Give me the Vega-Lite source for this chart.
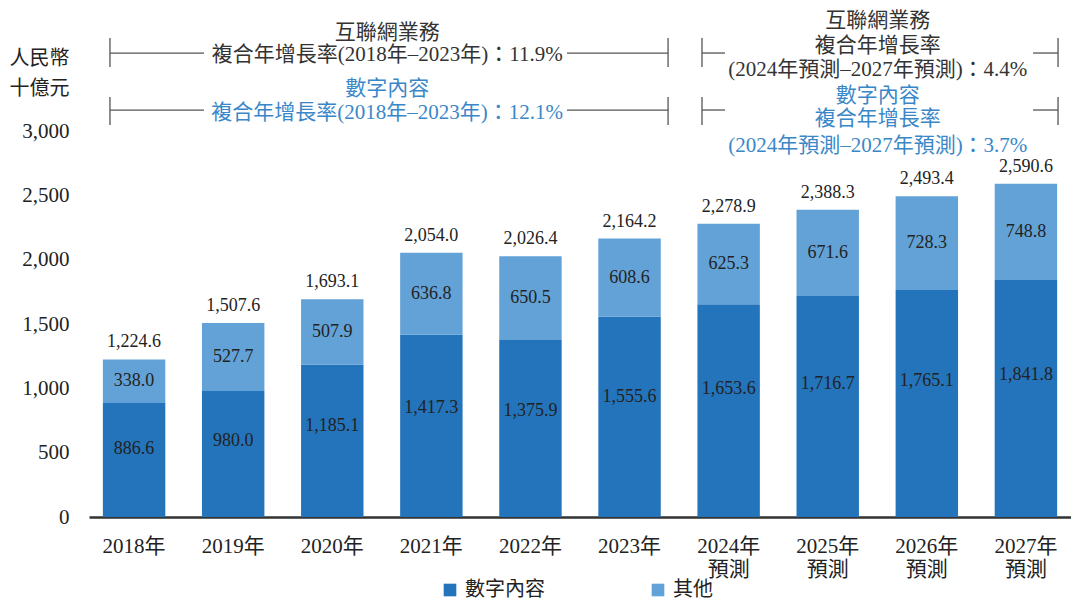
{
  "$schema": "https://vega.github.io/schema/vega-lite/v6.json",
  "width": 982,
  "height": 386,
  "autosize": {"type": "none"},
  "padding": {"left": 89, "top": 131, "right": 0, "bottom": 83},
  "background": "white",
  "config": {
    "font": "Liberation Serif, Noto Sans CJK TC",
    "view": {"stroke": null}
  },
  "datasets": {
    "bars": [
      {"year": "2018年", "series": "數字內容", "value": 886.6},
      {"year": "2018年", "series": "其他", "value": 338.0},
      {"year": "2019年", "series": "數字內容", "value": 980.0},
      {"year": "2019年", "series": "其他", "value": 527.7},
      {"year": "2020年", "series": "數字內容", "value": 1185.1},
      {"year": "2020年", "series": "其他", "value": 507.9},
      {"year": "2021年", "series": "數字內容", "value": 1417.3},
      {"year": "2021年", "series": "其他", "value": 636.8},
      {"year": "2022年", "series": "數字內容", "value": 1375.9},
      {"year": "2022年", "series": "其他", "value": 650.5},
      {"year": "2023年", "series": "數字內容", "value": 1555.6},
      {"year": "2023年", "series": "其他", "value": 608.6},
      {"year": "2024年預測", "series": "數字內容", "value": 1653.6},
      {"year": "2024年預測", "series": "其他", "value": 625.3},
      {"year": "2025年預測", "series": "數字內容", "value": 1716.7},
      {"year": "2025年預測", "series": "其他", "value": 671.6},
      {"year": "2026年預測", "series": "數字內容", "value": 1765.1},
      {"year": "2026年預測", "series": "其他", "value": 728.3},
      {"year": "2027年預測", "series": "數字內容", "value": 1841.8},
      {"year": "2027年預測", "series": "其他", "value": 748.8}
    ],
    "totals": [
      {"year": "2018年", "total": 1224.6},
      {"year": "2019年", "total": 1507.6},
      {"year": "2020年", "total": 1693.1},
      {"year": "2021年", "total": 2054.0},
      {"year": "2022年", "total": 2026.4},
      {"year": "2023年", "total": 2164.2},
      {"year": "2024年預測", "total": 2278.9},
      {"year": "2025年預測", "total": 2388.3},
      {"year": "2026年預測", "total": 2493.4},
      {"year": "2027年預測", "total": 2590.6}
    ],
    "annot": [
      {"label": "互聯網業務", "group": "互聯網業務", "pos": 2.56, "level": 3760},
      {"label": "複合年增長率(2018年–2023年)：11.9%", "group": "互聯網業務", "pos": 2.56, "level": 3590},
      {"label": "數字內容", "group": "數字內容", "pos": 2.56, "level": 3330},
      {"label": "複合年增長率(2018年–2023年)：12.1%", "group": "數字內容", "pos": 2.56, "level": 3140},
      {"label": "互聯網業務", "group": "互聯網業務", "pos": 7.52, "level": 3855},
      {"label": "複合年增長率", "group": "互聯網業務", "pos": 7.52, "level": 3660},
      {"label": "(2024年預測–2027年預測)：4.4%", "group": "互聯網業務", "pos": 7.52, "level": 3475},
      {"label": "數字內容", "group": "數字內容", "pos": 7.52, "level": 3275},
      {"label": "複合年增長率", "group": "數字內容", "pos": 7.52, "level": 3090},
      {"label": "(2024年預測–2027年預測)：3.7%", "group": "數字內容", "pos": 7.52, "level": 2885}
    ],
    "brackets": [
      {"p0": -0.243, "p1": 0.708, "l0": 3606, "l1": 3606},
      {"p0": 4.378, "p1": 5.40, "l0": 3606, "l1": 3606},
      {"p0": -0.243, "p1": -0.243, "l0": 3497, "l1": 3723},
      {"p0": 5.40, "p1": 5.40, "l0": 3497, "l1": 3723},
      {"p0": -0.243, "p1": 0.708, "l0": 3163, "l1": 3163},
      {"p0": 4.378, "p1": 5.40, "l0": 3163, "l1": 3163},
      {"p0": -0.243, "p1": -0.243, "l0": 3047, "l1": 3264},
      {"p0": 5.40, "p1": 5.40, "l0": 3047, "l1": 3264},
      {"p0": 5.743, "p1": 5.976, "l0": 3606, "l1": 3606},
      {"p0": 9.09, "p1": 9.343, "l0": 3606, "l1": 3606},
      {"p0": 5.743, "p1": 5.743, "l0": 3497, "l1": 3723},
      {"p0": 9.343, "p1": 9.343, "l0": 3497, "l1": 3723},
      {"p0": 5.743, "p1": 5.976, "l0": 3163, "l1": 3163},
      {"p0": 9.09, "p1": 9.343, "l0": 3163, "l1": 3163},
      {"p0": 5.743, "p1": 5.743, "l0": 3047, "l1": 3264},
      {"p0": 9.343, "p1": 9.343, "l0": 3047, "l1": 3264}
    ]
  },
  "resolve": {"scale": {"x": "independent"}, "axis": {"x": "independent"}},
  "layer": [
    {
      "layer": [
        {
          "data": {"name": "bars"},
          "mark": {"type": "bar"},
          "encoding": {
            "x": {
              "field": "year", "type": "nominal", "sort": null,
              "scale": {"paddingInner": 0.37, "paddingOuter": 0.14},
              "axis": {
                "title": null, "labelAngle": 0, "labelFontSize": 21, "labelColor": "#222",
                "labelPadding": 18, "ticks": false, "domainColor": "#333", "domainWidth": 2.5,
                "labelLineHeight": 23, "grid": false,
                "labelExpr": "length(datum.label) > 5 ? [slice(datum.label, 0, 5), slice(datum.label, 5)] : datum.label"
              }
            },
            "y": {
              "field": "value", "type": "quantitative", "stack": "zero",
              "scale": {"domain": [0, 3000], "nice": false},
              "axis": {
                "title": ["人民幣", "十億元"], "titleAngle": 0, "titleAlign": "left", "titleBaseline": "middle",
                "titleX": -80, "titleY": -73, "titleFontSize": 20, "titleFontWeight": "normal",
                "titleLineHeight": 30, "titleColor": "#222",
                "labelFontSize": 21, "labelColor": "#222", "labelPadding": 20,
                "domain": false, "ticks": false, "grid": false, "format": ",d",
                "values": [0, 500, 1000, 1500, 2000, 2500, 3000]
              }
            },
            "color": {
              "field": "series", "type": "nominal",
              "scale": {"domain": ["數字內容", "其他"], "range": ["#2474bb", "#62a2d7"]},
              "legend": {
                "title": null, "orient": "none", "legendX": 351, "legendY": 449,
                "direction": "horizontal", "symbolType": "square", "symbolSize": 160,
                "labelFontSize": 20, "labelColor": "#222", "columnPadding": 103,
                "labelOffset": 5, "symbolStrokeWidth": 0
              }
            },
            "order": {"field": "series", "sort": "descending"}
          }
        },
        {
          "data": {"name": "bars"},
          "transform": [
            {"stack": "value", "groupby": ["year"], "sort": [{"field": "series", "order": "descending"}], "as": ["v0", "v1"]},
            {"calculate": "datum.v0 + (datum.v1 - datum.v0) * (datum.series === '數字內容' ? 0.6 : 0.5)", "as": "mid"}
          ],
          "mark": {"type": "text", "fontSize": 18, "color": "#222", "baseline": "middle"},
          "encoding": {
            "x": {"field": "year", "type": "nominal", "sort": null},
            "y": {"field": "mid", "type": "quantitative", "scale": {"domain": [0, 3000], "nice": false}},
            "text": {"field": "value", "type": "quantitative", "format": ",.1f"}
          }
        },
        {
          "data": {"name": "totals"},
          "mark": {"type": "text", "fontSize": 18, "color": "#222", "baseline": "bottom", "dy": -8},
          "encoding": {
            "x": {"field": "year", "type": "nominal", "sort": null},
            "y": {"field": "total", "type": "quantitative", "scale": {"domain": [0, 3000], "nice": false}},
            "text": {"field": "total", "type": "quantitative", "format": ",.1f"}
          }
        }
      ]
    },
    {
      "layer": [
        {
          "data": {"name": "brackets"},
          "mark": {"type": "rule", "color": "#555", "strokeWidth": 1.3},
          "encoding": {
            "x": {"field": "p0", "type": "quantitative", "scale": {"domain": [-0.455, 9.474], "nice": false, "zero": false}, "axis": null},
            "x2": {"field": "p1"},
            "y": {"field": "l0", "type": "quantitative", "scale": {"domain": [0, 3000], "nice": false}},
            "y2": {"field": "l1"}
          }
        },
        {
          "data": {"name": "annot"},
          "mark": {"type": "text", "fontSize": 21, "baseline": "middle", "align": "center"},
          "encoding": {
            "x": {"field": "pos", "type": "quantitative", "scale": {"domain": [-0.455, 9.474], "nice": false, "zero": false}, "axis": null},
            "y": {"field": "level", "type": "quantitative", "scale": {"domain": [0, 3000], "nice": false}},
            "text": {"field": "label", "type": "nominal"},
            "color": {"condition": {"test": "datum.group === '數字內容'", "value": "#3a87c8"}, "value": "#333"}
          }
        }
      ]
    }
  ]
}
